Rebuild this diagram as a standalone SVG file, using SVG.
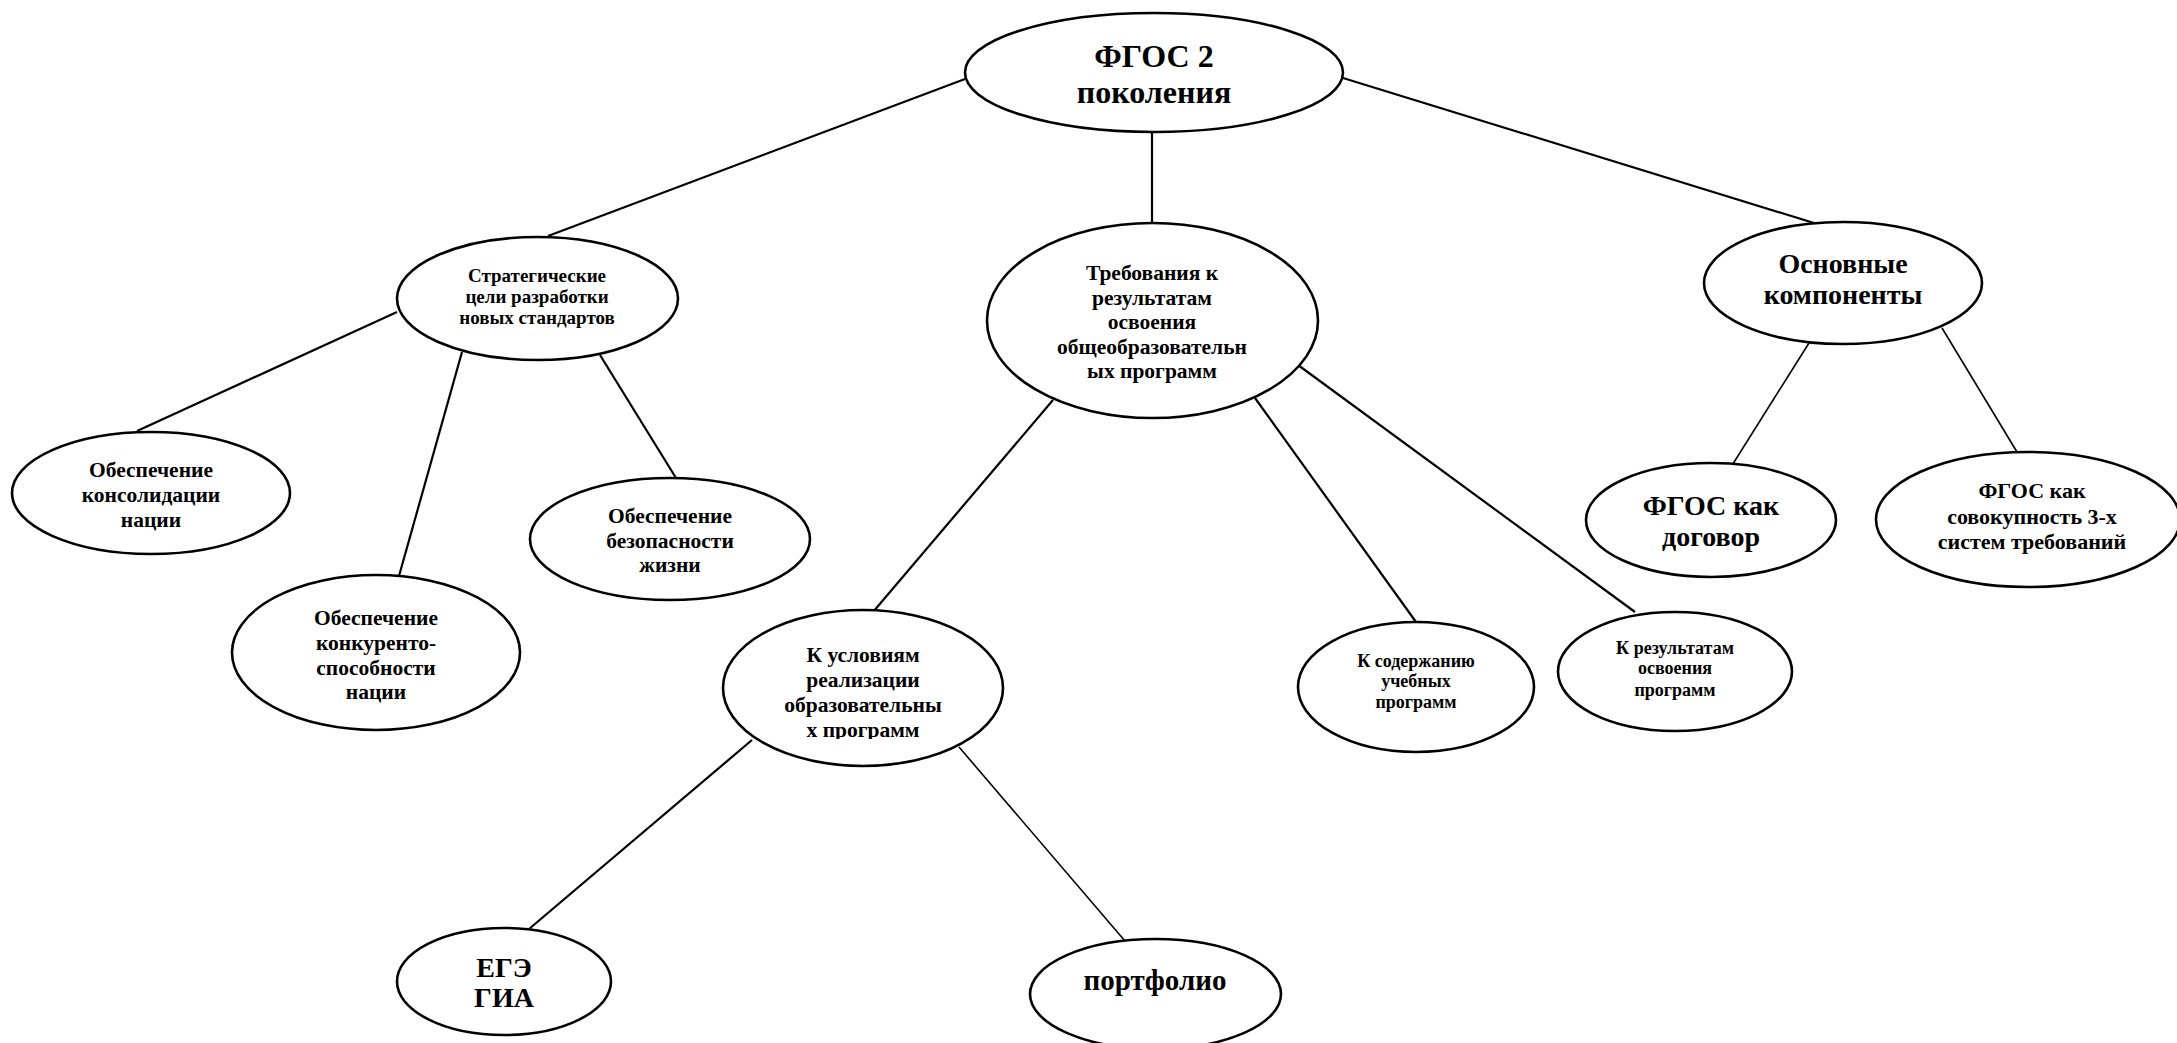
<svg xmlns="http://www.w3.org/2000/svg" width="2177" height="1043" viewBox="0 0 2177 1043">
<style>
ellipse{fill:#fff;stroke:#000;stroke-width:2.6}
text{font-family:"Liberation Serif","Times New Roman",serif;font-weight:bold;fill:#000;text-anchor:middle}
#connectors line{stroke:#000;stroke-width:2.2}
#connectors line.thin{stroke-width:1.6}
</style>
<defs>
<clipPath id="clipUsl"><rect x="700" y="600" width="330" height="139"/></clipPath>
</defs>
<rect width="2177" height="1043" fill="#fff"/>
<g id="connectors">
<line x1="965" y1="79" x2="548" y2="236"/>
<line x1="1152" y1="132" x2="1152" y2="223"/>
<line x1="1343" y1="78" x2="1814" y2="223"/>
<line x1="397" y1="312" x2="137" y2="431"/>
<line x1="462" y1="352" x2="399" y2="576"/>
<line x1="600" y1="355" x2="676" y2="478"/>
<line x1="1053" y1="400" x2="873" y2="612"/>
<line x1="1255" y1="398" x2="1416" y2="622"/>
<line x1="1298" y1="365" x2="1635" y2="612"/>
<line class="thin" x1="1809" y1="343" x2="1731" y2="467"/>
<line class="thin" x1="1942" y1="328" x2="2017" y2="452"/>
<line x1="752" y1="740" x2="529" y2="929"/>
<line class="thin" x1="959" y1="747" x2="1125" y2="941"/>
</g>
<g id="root">
<ellipse cx="1154" cy="72.5" rx="189" ry="59.5"/>
<text font-size="32" x="1154" y="67">ФГОС 2</text>
<text font-size="32" x="1154" y="103">поколения</text>
</g>
<g id="strat">
<ellipse cx="537.5" cy="298.5" rx="140.5" ry="61.5"/>
<text font-size="19" x="537" y="282">Стратегические</text>
<text font-size="19" x="537" y="303">цели разработки</text>
<text font-size="19" x="537" y="324">новых стандартов</text>
</g>
<g id="treb">
<ellipse cx="1152.5" cy="320.5" rx="165.5" ry="97.5"/>
<text font-size="21.5" x="1152" y="280">Требования к</text>
<text font-size="21.5" x="1152" y="304.5">результатам</text>
<text font-size="21.5" x="1152" y="329">освоения</text>
<text font-size="21.5" x="1152" y="353.5">общеобразовательн</text>
<text font-size="21.5" x="1152" y="378">ых программ</text>
</g>
<g id="osnov">
<ellipse cx="1843" cy="283" rx="139" ry="61"/>
<text font-size="28" x="1843" y="273">Основные</text>
<text font-size="28" x="1843" y="304">компоненты</text>
</g>
<g id="konsol">
<ellipse cx="151" cy="493" rx="139" ry="61"/>
<text font-size="21.5" x="151" y="477">Обеспечение</text>
<text font-size="21.5" x="151" y="502">консолидации</text>
<text font-size="21.5" x="151" y="527">нации</text>
</g>
<g id="konkur">
<ellipse cx="376" cy="652.5" rx="144" ry="77.5"/>
<text font-size="21.5" x="376" y="625">Обеспечение</text>
<text font-size="21.5" x="376" y="650">конкуренто-</text>
<text font-size="21.5" x="376" y="675">способности</text>
<text font-size="21.5" x="376" y="699">нации</text>
</g>
<g id="bezop">
<ellipse cx="670" cy="539" rx="140" ry="61"/>
<text font-size="21.5" x="670" y="523">Обеспечение</text>
<text font-size="21.5" x="670" y="548">безопасности</text>
<text font-size="21.5" x="670" y="572">жизни</text>
</g>
<g id="usloviya">
<ellipse cx="863" cy="688" rx="140" ry="78"/>
<g clip-path="url(#clipUsl)">
<text font-size="21.5" x="863" y="662">К условиям</text>
<text font-size="21.5" x="863" y="687">реализации</text>
<text font-size="21.5" x="863" y="712">образовательны</text>
<text font-size="21.5" x="863" y="737">х программ</text>
</g>
</g>
<g id="soderzh">
<ellipse cx="1416" cy="687" rx="118" ry="65"/>
<text font-size="18" x="1416" y="667">К содержанию</text>
<text font-size="18" x="1416" y="687">учебных</text>
<text font-size="18" x="1416" y="708">программ</text>
</g>
<g id="rezult">
<ellipse cx="1675" cy="671.5" rx="117" ry="59.5"/>
<text font-size="18" x="1675" y="654">К результатам</text>
<text font-size="18" x="1675" y="674">освоения</text>
<text font-size="18" x="1675" y="696">программ</text>
</g>
<g id="dogovor">
<ellipse cx="1711" cy="520" rx="125" ry="57"/>
<text font-size="28" x="1711" y="515">ФГОС как</text>
<text font-size="28" x="1711" y="546">договор</text>
</g>
<g id="sovokup">
<ellipse cx="2028" cy="519.5" rx="152" ry="67.5"/>
<text font-size="22" x="2032" y="498">ФГОС как</text>
<text font-size="22" x="2032" y="524">совокупность 3-х</text>
<text font-size="22" x="2032" y="549">систем требований</text>
</g>
<g id="ege">
<ellipse cx="504" cy="981.5" rx="107" ry="53.5"/>
<text font-size="28" x="504" y="977">ЕГЭ</text>
<text font-size="28" x="504" y="1007">ГИА</text>
</g>
<g id="portfolio">
<ellipse cx="1155.5" cy="994" rx="125.5" ry="55"/>
<text font-size="29" x="1155" y="990">портфолио</text>
</g>
</svg>
